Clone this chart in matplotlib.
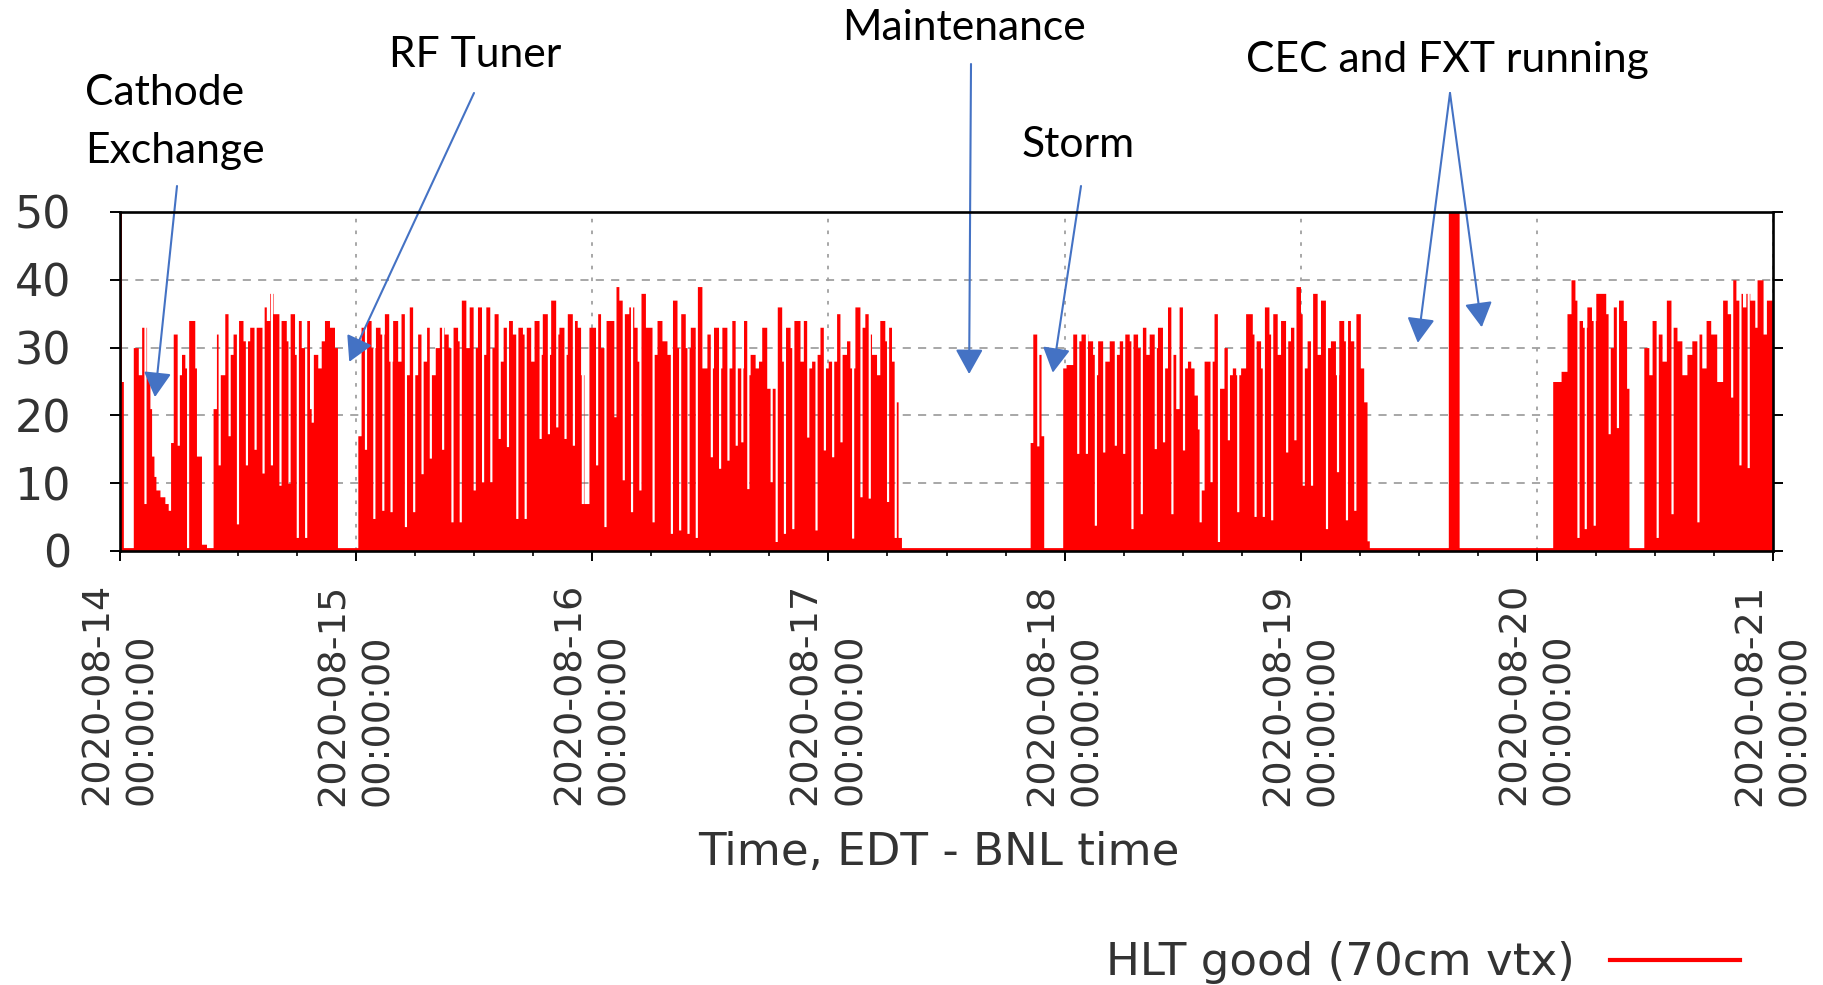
import numpy as np
import pandas as pd
import matplotlib
matplotlib.use('Agg')
import matplotlib.pyplot as plt
import matplotlib.dates as mdates
from matplotlib.lines import Line2D
from matplotlib.font_manager import FontProperties
from matplotlib.textpath import TextPath

# ---------------- data ----------------
START = pd.Timestamp('2020-08-14 00:00:00')
day_ticks = pd.date_range('2020-08-14', '2020-08-21', freq='D')
tick_labels = [d.strftime('%Y-%m-%d\n%H:%M:%S') for d in day_ticks]
y_ticks = [0, 10, 20, 30, 40, 50]
series_label = 'HLT good (70cm vtx)'
x_label = 'Time, EDT - BNL time'

# step levels: (hours since 2020-08-14 00:00, HLT good rate)
steps_d14 = [(0, 50), (0.15, 25), (0.34, 0.5), (1.35, 30), (1.86, 26), (2.2, 33), (2.7, 26),
             (3.04, 21), (3.21, 14), (3.45, 11), (3.65, 9), (4.06, 8), (4.56, 7), (4.9, 6),
             (5.14, 16), (5.41, 32), (5.91, 26), (6.25, 29), (6.59, 27), (6.93, 34), (7.6, 27),
             (7.77, 14), (8.28, 1), (8.79, 0.5), (9.46, 21), (9.8, 32), (10.14, 26), (10.65, 35),
             (11.15, 29), (11.49, 32), (11.97, 34), (12.5, 31), (13.18, 33), (14.53, 36),
             (14.87, 34), (15.21, 38), (15.55, 35), (16.15, 34), (16.9, 31), (17.24, 35),
             (17.74, 29), (18.08, 34), (18.42, 30), (18.86, 34), (19.26, 21), (19.6, 29),
             (20.1, 27), (20.45, 31), (20.78, 34), (21.29, 33), (21.8, 30), (22.1, 0.5)]
steps_d15 = [(24.17, 17), (24.5, 33), (25.01, 34), (25.52, 30), (25.96, 33), (26.43, 32),
             (26.87, 35), (27.31, 28), (27.71, 34), (28.22, 28), (28.56, 35), (29.07, 26),
             (29.4, 36), (29.91, 26), (30.25, 32), (30.76, 28), (31.16, 33), (31.6, 26),
             (32.04, 30), (32.45, 33), (32.95, 32), (33.36, 30), (33.8, 33), (34.31, 31),
             (34.64, 37), (35.15, 30), (35.49, 36), (36.0, 30), (36.33, 36), (36.84, 29),
             (37.18, 36), (37.69, 30), (38.02, 35), (38.53, 28), (38.94, 33), (39.38, 34),
             (39.88, 32), (40.39, 33), (40.9, 32), (41.23, 33), (41.74, 28), (42.08, 34),
             (42.59, 29), (42.92, 35), (43.43, 29), (43.77, 37), (44.28, 32), (44.61, 33),
             (45.12, 29), (45.46, 35), (45.97, 34), (46.47, 33), (46.81, 26), (47.15, 7),
             (47.66, 33)]
steps_d16 = [(48.33, 35), (48.84, 30), (49.18, 23), (49.35, 34), (50.19, 39), (50.7, 37),
             (51.21, 35), (51.71, 36), (52.22, 33), (52.56, 28), (52.9, 38), (53.4, 33),
             (54.24, 29), (54.58, 34), (55.08, 31), (55.59, 29), (56.1, 37), (56.61, 30),
             (56.94, 35), (57.45, 30), (57.96, 33), (58.46, 26), (58.63, 39), (59.14, 27),
             (59.65, 32), (59.99, 27), (60.32, 33), (60.83, 27), (61.17, 33), (61.68, 27),
             (62.18, 34), (62.69, 27), (63.37, 34), (63.7, 26), (64.04, 29), (64.55, 27),
             (64.89, 28), (65.22, 33), (65.73, 24), (66.75, 36), (67.25, 28), (67.59, 33),
             (68.1, 30), (68.44, 34), (69.11, 28), (69.45, 34), (69.96, 27), (70.29, 28),
             (70.8, 29), (71.14, 33), (71.65, 27)]
steps_d17 = [(71.98, 28), (72.83, 35), (73.34, 29), (73.84, 31), (74.18, 27), (74.69, 36),
             (75.2, 33), (75.7, 35), (76.04, 32), (76.38, 29), (76.89, 26), (77.22, 34),
             (77.73, 31), (77.9, 33), (78.41, 28), (78.74, 22), (79.08, 2), (79.42, 0.5),
             (92.5, 16), (92.77, 32), (93.28, 29), (93.61, 17), (93.88, 0.5)]
steps_d18 = [(95.81, 27), (96.15, 27.5), (96.83, 32), (97.33, 31), (97.67, 32), (98.35, 31),
             (98.85, 29), (99.19, 26), (99.36, 31), (100.04, 28), (100.54, 31), (101.05, 29),
             (101.56, 31), (102.06, 32), (102.57, 31), (102.91, 32), (103.42, 30), (103.75, 33),
             (104.26, 29), (104.6, 32), (105.11, 30), (105.44, 33), (105.95, 27), (106.46, 36),
             (106.97, 29), (107.3, 21), (107.64, 36), (108.15, 27), (108.49, 28), (108.82, 27),
             (109.16, 23), (109.5, 18), (109.84, 9), (110.18, 28), (111.19, 35), (111.7, 24),
             (112.2, 30), (112.71, 26), (113.05, 27), (113.39, 26), (113.89, 27), (114.4, 35),
             (115.08, 32), (115.42, 31), (115.92, 27), (116.26, 36), (116.77, 32), (117.11, 35),
             (117.61, 29), (117.95, 34), (118.46, 31), (118.96, 33), (119.47, 39)]
steps_d19 = [(119.98, 35), (120.32, 27), (120.65, 31), (121.16, 38), (121.67, 29), (122.01, 37),
             (122.51, 30), (123.02, 31), (123.53, 26), (123.87, 34), (124.37, 31), (124.71, 34),
             (125.05, 31), (125.56, 35), (126.06, 27), (126.4, 22), (126.74, 1.5), (126.97, 0.5),
             (135.0, 50), (136.1, 0.5)]
steps_d20 = [(145.61, 25), (146.46, 26.5), (147.06, 35), (147.47, 40), (147.87, 37), (148.21, 34),
             (148.64, 33), (149.08, 36), (149.55, 34), (149.99, 38), (151.0, 35), (151.34, 30),
             (151.77, 36), (152.18, 37), (152.78, 34), (153.12, 24), (153.36, 0.5), (154.87, 30),
             (155.38, 26), (155.71, 34), (156.22, 32), (156.72, 28), (157.16, 37), (157.63, 33),
             (158.24, 31), (158.74, 26), (159.25, 29), (159.75, 31), (160.26, 32), (160.76, 27),
             (161.2, 34), (161.67, 32), (162.28, 25), (162.88, 37), (163.35, 35), (163.79, 40),
             (164.23, 37), (164.56, 38), (164.9, 36), (165.24, 38), (165.64, 37), (166.15, 33),
             (166.38, 40), (166.99, 32), (167.33, 37)]

# short drops between runs: (hours since start, value during drop)
dips_d14 = [(2.43, 7), (5.81, 15.6), (6.76, 0.5), (9.97, 12.7), (10.98, 17), (11.83, 4),
            (12.74, 12.7), (13.62, 15), (14.43, 11.5), (15.28, 12.7), (16.15, 9.7), (17.07, 10),
            (17.91, 2), (18.76, 2), (19.43, 19)]
dips_d15 = [(24.84, 15), (25.69, 4.8), (26.6, 6), (27.44, 5.8), (28.9, 3.6), (29.74, 5.8),
            (30.59, 11.4), (31.43, 13.7), (32.68, 15), (33.63, 4.3), (34.47, 4.3), (35.89, 9),
            (36.74, 10.2), (37.58, 10.2), (38.43, 16.6), (39.27, 15.4), (40.22, 4.8),
            (41.07, 4.8), (42.59, 16.6), (43.43, 17.3), (44.28, 18.3), (45.12, 16.6),
            (45.97, 15.6), (46.88, 7)]
dips_d16 = [(48.33, 12.7), (49.18, 3.6), (50.19, 19.8), (51.04, 10.5), (51.88, 5.8), (52.73, 9),
            (54.07, 4.3), (55.93, 2.6), (56.77, 3.1), (57.62, 2.6), (58.46, 2), (59.99, 13.9),
            (60.83, 12.2), (61.68, 13.4), (62.52, 15.6), (63.09, 16.1), (63.7, 9.2),
            (66.07, 10.2), (66.58, 1.4), (67.42, 2.6), (68.27, 3.3), (69.79, 16.8),
            (70.63, 3.1), (71.48, 14.9)]
dips_d17 = [(72.32, 13.9), (73.17, 16.1), (74.35, 1.9), (75.2, 8), (76.04, 7.8), (77.9, 7.3),
            (78.68, 2), (93.17, 15.5)]
dips_d18 = [(97.23, 14.4), (98.11, 14.4), (99.02, 3.8), (99.87, 14.6), (101.05, 15.6),
            (101.9, 14.4), (102.74, 3.3), (103.69, 5.5), (105.11, 15.1), (105.95, 16.1),
            (106.8, 5.5), (107.98, 14.9), (109.67, 4.3), (110.78, 10.2), (111.53, 1.4),
            (112.54, 16.4), (113.49, 5.8), (115.25, 5.1), (116.09, 5.1), (116.94, 4.6),
            (118.46, 14.6), (119.3, 16.4)]
dips_d19 = [(120.15, 9.7), (120.99, 9.7), (122.51, 3.3), (123.63, 11.7), (124.54, 4.6),
            (125.39, 6)]
dips_d20 = [(148.07, 2), (148.81, 3.3), (149.72, 3.8), (151.24, 17.3), (152.08, 18.2),
            (156.12, 2), (157.63, 5.5), (160.26, 4.3), (163.69, 22.7), (164.53, 12.7),
            (165.37, 12.3)]

END_HOURS = 168.0
DIP_W = 0.22  # duration of each short drop, hours

# ---------------- build step series ----------------
steps = sorted(steps_d14 + steps_d15 + steps_d16 + steps_d17 + steps_d18 + steps_d19 + steps_d20)
dips = sorted(dips_d14 + dips_d15 + dips_d16 + dips_d17 + dips_d18 + dips_d19 + dips_d20)
st = np.array([s[0] for s in steps], float)
sv = np.array([s[1] for s in steps], float)
dt = np.array([d[0] for d in dips], float)
dv = np.array([d[1] for d in dips], float)

times = np.unique(np.concatenate([st, dt, dt + DIP_W, [END_HOURS]]))
idx = np.clip(np.searchsorted(st, times, side='right') - 1, 0, None)
vals = sv[idx].copy()
for t, v in zip(dt, dv):
    m = (times >= t - 1e-9) & (times < t + DIP_W - 1e-9)
    vals[m] = v

x = mdates.date2num((START + pd.to_timedelta(times, unit='h')).to_pydatetime())

# ---------------- figure ----------------
W, H = 1823, 985
fig = plt.figure(figsize=(W / 100, H / 100), dpi=100)
ax = fig.add_axes([120 / W, 1 - 551 / H, 1653 / W, 339 / H])

ax.fill_between(x, vals, step='post', color='#ff0000', lw=0, zorder=2)

ax.set_ylim(0, 50)
ax.set_xlim(mdates.date2num(START.to_pydatetime()),
            mdates.date2num((START + pd.Timedelta(hours=END_HOURS)).to_pydatetime()))

txt_col = '#333333'
ax.set_yticks(y_ticks)
ax.set_yticklabels([str(v) for v in y_ticks], fontsize=32, color=txt_col,
                   family='DejaVu Sans')
ax.set_xticks(mdates.date2num(day_ticks.to_pydatetime()))
ax.set_xticklabels(tick_labels, rotation=90, fontsize=27.5, color=txt_col,
                   family='DejaVu Sans', ma='left', linespacing=1.3)
ax.xaxis.set_minor_locator(mdates.HourLocator(byhour=[6, 12, 18]))

ax.tick_params(axis='y', which='major', direction='out', length=7.2, width=1.4,
               right=True, labelright=False, pad=28)
ax.tick_params(axis='x', which='major', direction='out', length=7.2, width=1.4, pad=16)
ax.tick_params(axis='x', which='minor', direction='out', length=3.6, width=1.2)

for s in ax.spines.values():
    s.set_linewidth(1.9)
    s.set_color('black')
    s.set_zorder(3)

ax.set_axisbelow(True)
ax.grid(True, axis='y', color='#a0a0a0', lw=1.3, linestyle=(0, (4.5, 4)))
ax.grid(True, axis='x', which='major', color='#a0a0a0', lw=1.3, linestyle=(0, (2, 4.5)))

ax.set_xlabel(x_label, fontsize=32.5, color=txt_col, family='DejaVu Sans')
ax.xaxis.set_label_coords((939 - 120) / 1653, (551 - 852) / 339)
ax.xaxis.label.set_va('center')

# legend
handle = Line2D([], [], color='#ff0000', lw=3)
fig.legend(handles=[handle], labels=[series_label], markerfirst=False, frameon=False,
           loc='center right', bbox_to_anchor=(1740 / W, 22 / H), borderpad=0,
           borderaxespad=0, handlelength=2.88, handletextpad=0.78,
           prop=FontProperties(family='DejaVu Sans', size=32.5), labelcolor=txt_col)

# ---------------- annotations ----------------
ANN_FAMILY = 'Lato'
tp = TextPath((0, 0), 'CEC and FXT running', prop=FontProperties(family=ANN_FAMILY, size=100))
w_px = tp.get_extents().width * 100 / 72
ann_fs = 100 * 400 / w_px

def ftext(xp, yp_base, s):
    fig.text(xp / W, 1 - yp_base / H, s, ha='left', va='baseline', fontsize=ann_fs,
             family=ANN_FAMILY, color='black')

ftext(85, 105, 'Cathode')
ftext(85, 163, 'Exchange')
ftext(389, 67, 'RF Tuner')
ftext(842, 40, 'Maintenance')
ftext(1022, 157, 'Storm')
ftext(1246, 72, 'CEC and FXT running')

arrow_col = '#4472C4'
aprops = dict(arrowstyle='-|>,head_length=0.45,head_width=0.25', color=arrow_col, lw=1.5,
              mutation_scale=34, shrinkA=0, shrinkB=0)

def hdate(h):
    return mdates.date2num((START + pd.Timedelta(hours=h)).to_pydatetime())

arrows = [((3.55, 22.7), (177, 186)),
          ((23.3, 27.9), (474, 93)),
          ((86.3, 26.1), (971, 64)),
          ((94.8, 26.3), (1081, 186)),
          ((131.9, 30.7), (1450, 93)),
          ((138.4, 33.0), (1450, 93))]
for (h, v), (px, py) in arrows:
    ax.annotate('', xy=(hdate(h), v), xycoords='data',
                xytext=(px, H - py), textcoords='figure pixels',
                arrowprops=aprops, annotation_clip=False)

fig.savefig('out.png', dpi=100, facecolor='white')
